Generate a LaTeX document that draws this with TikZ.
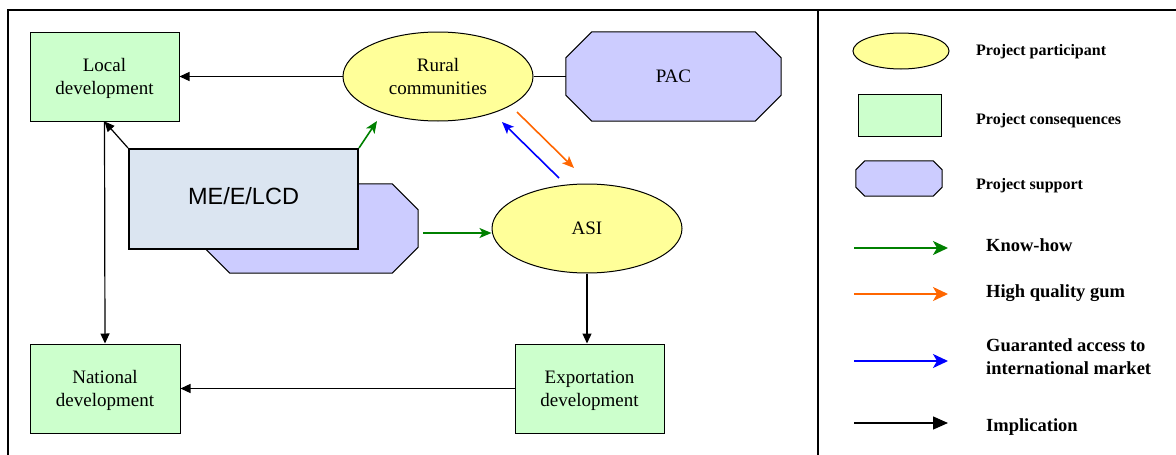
\documentclass[tikz,border=0pt]{standalone}
\usepackage{fontspec}
\setmainfont{Liberation Serif}
\newfontfamily\arialfont{Liberation Sans}
\usetikzlibrary{arrows.meta,shapes.geometric,calc,backgrounds}

\definecolor{partfill}{HTML}{FFFF99}
\definecolor{consfill}{HTML}{CCFFCC}
\definecolor{suppfill}{HTML}{CCCCFF}
\definecolor{mefill}{HTML}{DBE5F1}
\definecolor{khgreen}{HTML}{008000}
\definecolor{gumorange}{HTML}{FF6600}
\definecolor{mktblue}{HTML}{0000FF}

% octagon outline around a rectangular node, #2 = chamfer size
\newcommand\octagonpath[2]{%
  ($(#1.north west)+(#2,0pt)$) -- ($(#1.north east)+(-#2,0pt)$) --
  ($(#1.north east)+(0pt,-#2)$) -- ($(#1.south east)+(0pt,#2)$) --
  ($(#1.south east)+(-#2,0pt)$) -- ($(#1.south west)+(#2,0pt)$) --
  ($(#1.south west)+(0pt,#2)$) -- ($(#1.north west)+(0pt,-#2)$) -- cycle}

\tikzset{
  lbl/.style={font=\fontsize{19}{23}\selectfont, align=center, text depth=-2pt},
  participant/.style={ellipse, draw, line width=1pt, fill=partfill, inner sep=0pt,
    minimum width=190pt, minimum height=89pt, lbl},
  consequence/.style={rectangle, draw, line width=1pt, fill=consfill, inner sep=0pt,
    minimum width=149pt, minimum height=89pt, lbl},
  support/.style={rectangle, inner sep=0pt, minimum width=215pt, minimum height=89pt, lbl},
  octfill/.style={draw, line width=1pt, fill=suppfill},
  implies/.style={line width=1.2pt, -{Triangle[length=10pt,width=9pt]}},
  plainline/.style={line width=1.2pt},
  knowhow/.style={line width=1.6pt, khgreen, -{Stealth[length=12pt,width=10pt,inset=3pt]}},
  gum/.style={line width=1.6pt, gumorange, -{Stealth[length=12pt,width=10pt,inset=3pt]}},
  market/.style={line width=1.6pt, mktblue, -{Stealth[length=12pt,width=10pt,inset=3pt]}},
  legsmall/.style={font=\fontsize{16}{19}\selectfont\bfseries, anchor=west, inner sep=0pt},
  legbig/.style={font=\fontsize{18.5}{23}\selectfont\bfseries, anchor=west, inner sep=0pt, align=left},
  frame/.style={line width=1.6pt},
}

\begin{document}
\begin{tikzpicture}[x=1pt,y=-1pt]
\useasboundingbox (0,0) rectangle (1176,455);

% frame and divider
\coordinate (ftl) at (8,10);
\coordinate (ftr) at (1176,10);
\coordinate (fbl) at (8,455);
\coordinate (dtop) at (818,10);
\coordinate (dbot) at (818,455);
\draw[frame] (fbl) -- (ftl) -- (ftr);
\draw[frame] (dtop) -- (dbot);

% diagram nodes
\node[consequence] (local) at (104.5,76.5) {Local\\development};
\node[participant] (rural) at (438,76.5) {Rural\\communities};
\node[support] (pac) at (673.5,76.5) {PAC};
\node[support, minimum width=214pt] (sup) at (311,228.5) {};
\node[rectangle, draw, line width=2pt, fill=mefill, minimum width=229pt, minimum height=100pt,
      inner sep=0pt, font=\arialfont\fontsize{23.5}{28}\selectfont] (me) at (243.5,199) {ME/E/LCD\\[-4pt]\strut};
\node[participant] (asi) at (587,228.5) {ASI};
\node[consequence, minimum width=150pt] (national) at (105,388.5) {National\\development};
\node[consequence] (export) at (589.5,388.5) {Exportation\\development};

\begin{scope}[on background layer]
  \filldraw[octfill] \octagonpath{pac}{26pt};
  \filldraw[octfill] \octagonpath{sup}{26pt};
\end{scope}

% connectors
\draw[implies] (rural.west) -- (local.east);
\draw[plainline] (rural.east) -- (pac.west);
\draw[implies] (me.north west) -- (local.south);
\draw[implies] (local.south) -- (national.north);
\draw[implies] (asi.south) -- (asi.south |- export.north);
\draw[implies] (export.west) -- (national.east);

\coordinate (kh1) at (377,121);
\draw[knowhow] (me.north east) -- (kh1);
\coordinate (kh2) at (423,233);
\draw[knowhow] (kh2) -- (kh2 -| asi.west);
\coordinate (gums) at (517,112);
\coordinate (gume) at (574,168);
\draw[gum] (gums) -- (gume);
\coordinate (mkts) at (559,178);
\coordinate (mkte) at (502,122);
\draw[market] (mkts) -- (mkte);

% legend
\node[ellipse, draw, line width=1pt, fill=partfill, minimum width=96pt, minimum height=36pt, inner sep=0pt] (legpart) at (901,51) {};
\node[rectangle, draw, line width=1pt, fill=consfill, minimum width=83pt, minimum height=42pt, inner sep=0pt] (legcons) at (899.5,115) {};
\node[rectangle, inner sep=0pt, minimum width=86pt, minimum height=35pt] (legsup) at (899,178.5) {};
\filldraw[octfill] \octagonpath{legsup}{9pt};

\node[legsmall] (tpart) at (976,51.5) {Project participant};
\node[legsmall] (tcons) at (976,120.5) {Project consequences};
\node[legsmall] (tsup) at (976,185.5) {Project support};

\coordinate (lk1) at (854,248); \coordinate (lk2) at (948,248);
\coordinate (lg1) at (854,294); \coordinate (lg2) at (948,294);
\coordinate (lm1) at (854,361); \coordinate (lm2) at (948,361);
\coordinate (li1) at (854,423); \coordinate (li2) at (948,423);
\draw[line width=1.8pt, khgreen, -{Stealth[length=15pt,width=14pt,inset=4pt]}] (lk1) -- (lk2);
\draw[line width=1.8pt, gumorange, -{Stealth[length=15pt,width=14pt,inset=4pt]}] (lg1) -- (lg2);
\draw[line width=1.8pt, mktblue, -{Stealth[length=15pt,width=14pt,inset=4pt]}] (lm1) -- (lm2);
\draw[line width=1.4pt, -{Triangle[length=15pt,width=13pt]}] (li1) -- (li2);

\node[legbig] (tkh) at (986,245) {Know-how};
\node[legbig] (tgum) at (986,293) {High quality gum};
\node[legbig] (tmkt) at (986,357) {Guaranted access to\\international market};
\node[legbig] (timp) at (986,427.5) {Implication};
\end{tikzpicture}
\end{document}
